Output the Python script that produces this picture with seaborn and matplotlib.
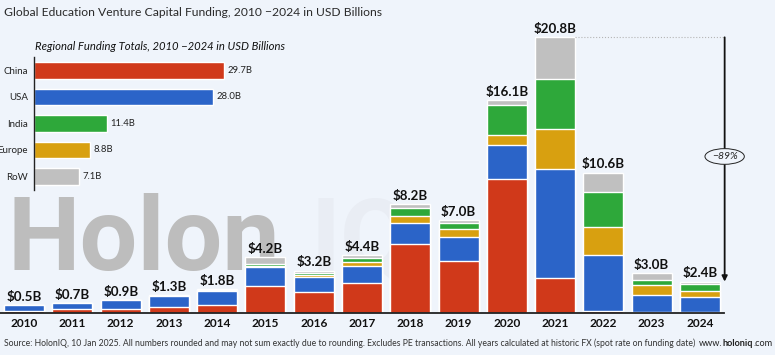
import numpy as np
import pandas as pd
import seaborn as sns
import matplotlib.pyplot as plt

# yearly funding by region, USD billions
years  = [str(y) for y in range(2010, 2025)]
china  = [0.15, 0.25, 0.30, 0.40, 0.58, 2.00, 1.55, 2.22, 5.19, 3.90, 10.10, 2.64, 0.13, 0.05, 0.03]
usa    = [0.40, 0.45, 0.63, 0.83, 1.03, 1.46, 1.15, 1.34, 1.61, 1.79, 2.54, 8.24, 4.23, 1.31, 1.16]
europe = [0.00, 0.00, 0.00, 0.01, 0.03, 0.10, 0.12, 0.28, 0.48, 0.63, 0.78, 2.97, 2.14, 0.73, 0.45]
india  = [0.00, 0.00, 0.00, 0.02, 0.10, 0.12, 0.15, 0.30, 0.60, 0.48, 2.29, 3.80, 2.62, 0.38, 0.53]
row    = [0.00, 0.00, 0.00, 0.04, 0.05, 0.50, 0.20, 0.20, 0.33, 0.20, 0.33, 3.15, 1.46, 0.50, 0.18]
total_labels = ['$0.5B', '$0.7B', '$0.9B', '$1.3B', '$1.8B', '$4.2B', '$3.2B', '$4.4B',
                '$8.2B', '$7.0B', '$16.1B', '$20.8B', '$10.6B', '$3.0B', '$2.4B']

regions = ['China', 'USA', 'India', 'Europe', 'RoW']
region_totals = [29.7, 28.0, 11.4, 8.8, 7.1]
region_labels = ['29.7B', '28.0B', '11.4B', '8.8B', '7.1B']
change_label = '−89%'

BG = '#eff4fb'
RED, BLUE, GREEN, YELLOW, GREY = '#d0391a', '#2b64c8', '#2ea83a', '#d8a010', '#c0c0c0'

sns.set_theme(style='white', rc={'figure.facecolor': BG, 'axes.facecolor': BG,
                                 'savefig.facecolor': BG})
plt.rcParams['font.family'] = ['Lato', 'DejaVu Sans']

W, H = 775, 355
fig = plt.figure(figsize=(W / 100, H / 100), dpi=100)


def box(x0, y0, x1, y1):
    # pixel box measured from the top-left corner
    return [x0 / W, 1 - y1 / H, (x1 - x0) / W, (y1 - y0) / H]


renderer = fig.canvas.get_renderer()


def fit(t, width):
    bb = t.get_window_extent(renderer)
    t.set_fontsize(t.get_fontsize() * width / bb.width)
    return t


# ---- main stacked bars
ax = fig.add_axes(box(0, 8.2, 724, 312.7))
ax.patch.set_alpha(0)
df = pd.DataFrame({'year': years, 'China': china, 'USA': usa, 'Europe': europe,
                   'India': india, 'RoW': row})
layers = [('China', RED), ('USA', BLUE), ('Europe', YELLOW), ('India', GREEN), ('RoW', GREY)]
cum = df[[n for n, _ in layers]].cumsum(axis=1)
for name, color in reversed(layers):
    sns.barplot(x=df['year'], y=cum[name], color=color, width=0.83, saturation=1,
                ax=ax, zorder=2)

tops = cum['RoW'].values
for i, (t, lab) in enumerate(zip(tops, total_labels)):
    ax.text(i, t + 0.32, lab, ha='center', va='baseline', fontsize=9.6,
            fontweight='bold', color='#111')

ax.set_xlim(-0.5, 14.5)
ax.set_ylim(0, 23)
ax.set_yticks([])
ax.set_xlabel('')
ax.set_ylabel('')
for s in ['top', 'right', 'left']:
    ax.spines[s].set_visible(False)
ax.spines['bottom'].set_color('#222')
ax.spines['bottom'].set_linewidth(1.3)
ax.tick_params(axis='x', length=0, pad=4, labelsize=8.6, colors='#111')
plt.setp(ax.get_xticklabels(), fontweight='bold')

# drop from peak (2021) to 2024
peak, last = 11, 14
xa = (725 - 24) / 48.3
ax.plot([peak + 0.415, xa], [tops[peak], tops[peak]], ls=':', color='#b5b5b5', lw=0.8,
        clip_on=False)
ax.annotate('', xy=(xa, tops[last]), xytext=(xa, tops[peak]), annotation_clip=False,
            arrowprops=dict(arrowstyle='-|>', color='#111', lw=1.3, shrinkA=0, shrinkB=0,
                            mutation_scale=8))
ax.text(xa, 11.8, change_label, ha='center', va='center', style='italic', fontsize=7.5,
        color='#222', zorder=5,
        bbox=dict(boxstyle='ellipse,pad=0.1', fc=BG, ec='#222', lw=0.7))

# watermark
wm = fig.text(7 / W, 1 - 270 / H, 'Holon', family='Roboto', fontweight='bold',
              fontsize=80, color='#bdbdbd', va='baseline', zorder=-1)
fit(wm, 273)
fig.text(310 / W, 1 - 270 / H, 'IQ', family='Roboto', fontweight='bold',
         fontsize=wm.get_fontsize(), color='#e9edf4', va='baseline', zorder=-1)

# ---- inset: regional totals
axi = fig.add_axes(box(34, 57.25, 34 + 45 * 6.4, 189.75))
axi.patch.set_alpha(0)
sns.barplot(x=region_totals, y=regions, hue=regions, legend=False, orient='h',
            palette=[RED, BLUE, GREEN, YELLOW, GREY], width=0.64, saturation=1, ax=axi)
for i, (v, lab) in enumerate(zip(region_totals, region_labels)):
    axi.text(v + 0.5, i, lab, va='center', ha='left', fontsize=6.8, color='#222')
axi.set_xlim(0, 45)
axi.set_xticks([])
axi.set_xlabel('')
axi.set_ylabel('')
for s in ['top', 'right', 'bottom']:
    axi.spines[s].set_visible(False)
axi.spines['left'].set_color('#222')
axi.spines['left'].set_linewidth(1.0)
axi.tick_params(axis='y', length=0, pad=4.5, labelsize=7, colors='#222')

# ---- titles and source
t1 = fig.text(4 / W, 1 - 13 / H, 'Global Education Venture Capital Funding, 2010 −2024 in USD Billions',
              fontsize=10.5, color='#2a2a2a', va='center', ha='left')
fit(t1, 381)
t2 = fig.text(35 / W, 1 - 46 / H, 'Regional Funding Totals, 2010 −2024 in USD Billions',
              fontsize=7.5, style='italic', color='#111', va='center', ha='left')
fit(t2, 249)
src = fig.text(4 / W, 1 - 343 / H,
               'Source: HolonIQ, 10 Jan 2025. All numbers rounded and may not sum exactly due to '
               'rounding. Excludes PE transactions. All years calculated at historic FX '
               '(spot rate on funding date)', fontsize=5.5, color='#333', va='center', ha='left')
fit(src, 690)
fs = src.get_fontsize() * 1.05
x = 699
for piece, wt in [('www.', 'normal'), ('holoniq', 'bold'), ('.com', 'normal')]:
    t = fig.text(x / W, 1 - 343 / H, piece, fontsize=fs, fontweight=wt, color='#222',
                 va='center', ha='left')
    x += t.get_window_extent(renderer).width

fig.savefig('out.png', dpi=100)
